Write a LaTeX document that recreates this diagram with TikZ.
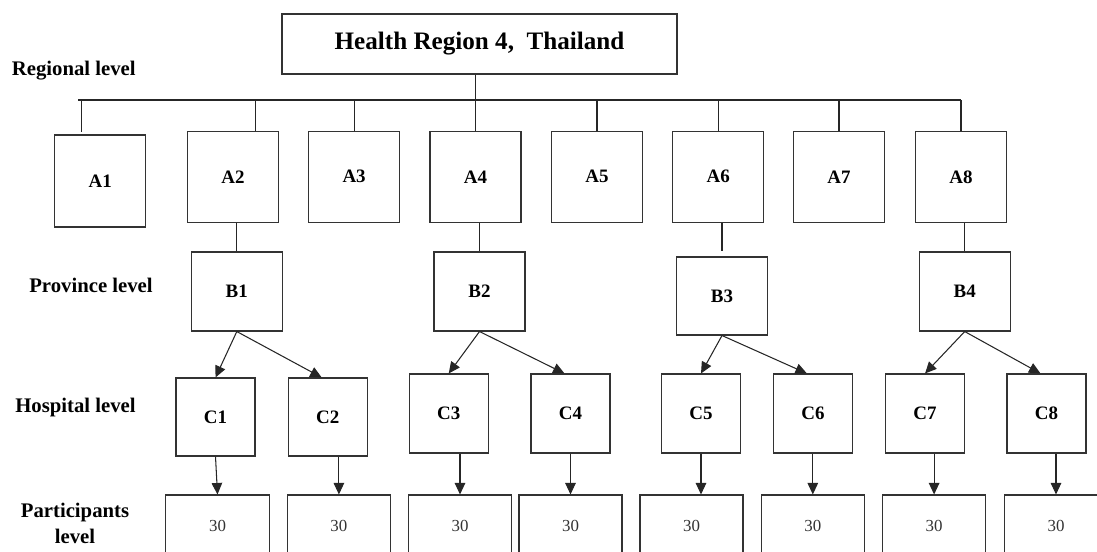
\documentclass[tikz,border=0pt]{standalone}
\usepackage{fontspec}
\setmainfont{Liberation Serif}
\usetikzlibrary{arrows.meta}

\begin{document}
\begin{tikzpicture}[x=0.02cm, y=-0.02cm,
  wh/.style n args={2}{minimum width=#1*0.02cm, minimum height=#2*0.02cm},
  box/.style={draw=black!80, line width=0.6pt, inner sep=0pt, fill=white,
              font=\bfseries\fontsize{10.8}{12}\selectfont},
  topbox/.style={box, font=\bfseries\fontsize{14.3}{16}\selectfont},
  pbox/.style={box, font=\fontsize{9.6}{11}\selectfont, text=black!80},
  levellabel/.style={font=\bfseries\fontsize{11.8}{14.7}\selectfont, align=center, inner sep=0pt},
  link/.style={draw=black!85, line width=0.6pt},
  arr/.style={link, -{Triangle[length=0.23cm, width=0.21cm]}}
]
\useasboundingbox (0,0) rectangle (1097,551);
\clip (0,0) rectangle (1097,551);

% level labels on the left
\node[levellabel] (lreg)  at (73.8,70.7)  {Regional level};
\node[levellabel] (lprov) at (91,285.7)   {Province level};
\node[levellabel] (lhosp) at (75.5,407.3) {Hospital level};
\node[levellabel] (lpart) at (75,523)     {Participants\\level};

% region
\node[topbox, wh={395}{60}] (top) at (479.5,44) {Health Region 4,\ \ Thailand};

% regional units
\node[box, wh={91.5}{92}] (A1) at (100.2,181)   {A1};
\node[box, wh={91}{91}]   (A2) at (232.9,176.8) {A2};
\node[box, wh={91}{91}]   (A3) at (354.1,176.8) {A3};
\node[box, wh={91}{91}]   (A4) at (475.5,176.8) {A4};
\node[box, wh={91}{91}]   (A5) at (597,176.8)   {A5};
\node[box, wh={91}{91}]   (A6) at (718.2,176.8) {A6};
\node[box, wh={91}{91}]   (A7) at (839,176.8)   {A7};
\node[box, wh={91}{91}]   (A8) at (961,176.8)   {A8};

% provinces
\node[box, wh={91}{79}]   (B1) at (236.8,291.5) {B1};
\node[box, wh={91}{79}]   (B2) at (479.5,291.5) {B2};
\node[box, wh={90.5}{78}] (B3) at (722,296)     {B3};
\node[box, wh={91}{79}]   (B4) at (964.7,291.5) {B4};

% hospitals
\node[box, wh={79}{78}] (C1) at (215.5,417)    {C1};
\node[box, wh={79}{78}] (C2) at (327.7,417)    {C2};
\node[box, wh={79}{79}] (C3) at (448.7,413.5)  {C3};
\node[box, wh={79}{79}] (C4) at (570.5,413.5)  {C4};
\node[box, wh={79}{79}] (C5) at (701,413.5)    {C5};
\node[box, wh={79}{79}] (C6) at (812.9,413.5)  {C6};
\node[box, wh={79}{79}] (C7) at (925,413.5)    {C7};
\node[box, wh={79}{79}] (C8) at (1046.5,413.5) {C8};

% participants
\node[pbox, wh={104}{61}] (P1) at (217.5,525.5) {30};
\node[pbox, wh={103}{61}] (P2) at (338.9,525.5) {30};
\node[pbox, wh={103}{61}] (P3) at (460,525.5)   {30};
\node[pbox, wh={103}{61}] (P4) at (570.5,525.5) {30};
\node[pbox, wh={103}{61}] (P5) at (691.5,525.5) {30};
\node[pbox, wh={103}{61}] (P6) at (812.8,525.5) {30};
\node[pbox, wh={103}{61}] (P7) at (934.1,525.5) {30};
\node[pbox, wh={103}{61}] (P8) at (1056,525.5)  {30};

% distribution bus below the region box
\coordinate (busL) at (78,100);
\coordinate (busR) at (961,100);
\coordinate (d1) at (81.4,100);
\coordinate (d2) at (255.7,100);
\draw[link] (busL) -- (busR);
\draw[link] (top.south -| A4.north) -- (A4.north);
\draw[link] (d1) -- ++(0,32);
\draw[link] (d2) -- (d2 |- A2.north);
\foreach \a in {A3,A5,A6,A7,A8}
  \draw[link] (\a.north |- busL) -- (\a.north);

% regional units to provinces
\draw[link] (A2.south -| B1.north) -- (B1.north);
\draw[link] (A4.south -| B2.north) -- (B2.north);
\draw[link] (A6.south -| B3.north) -- ++(0,28);
\draw[link] (A8.south -| B4.north) -- (B4.north);

% provinces to hospitals
\draw[arr] (B1.south) -- (C1.north);
\draw[arr] (B1.south) -- ([xshift=-0.12cm]C2.north);
\draw[arr] (B2.south) -- (C3.north);
\draw[arr] (B2.south) -- ([xshift=-0.12cm]C4.north);
\draw[arr] (B3.south) -- (C5.north);
\draw[arr] (B3.south) -- ([xshift=-0.12cm]C6.north);
\draw[arr] (B4.south) -- (C7.north);
\draw[arr] (B4.south) -- ([xshift=-0.12cm]C8.north);

% hospitals to participants
\draw[arr] (C1.south) -- (P1.north);
\foreach \c/\p in {C2/P2,C3/P3,C4/P4,C6/P6,C7/P7,C8/P8}
  \draw[arr] (\c.south -| \p.north) -- (\p.north);
\draw[arr] (C5.south) -- (C5.south |- P5.north);
\end{tikzpicture}
\end{document}
